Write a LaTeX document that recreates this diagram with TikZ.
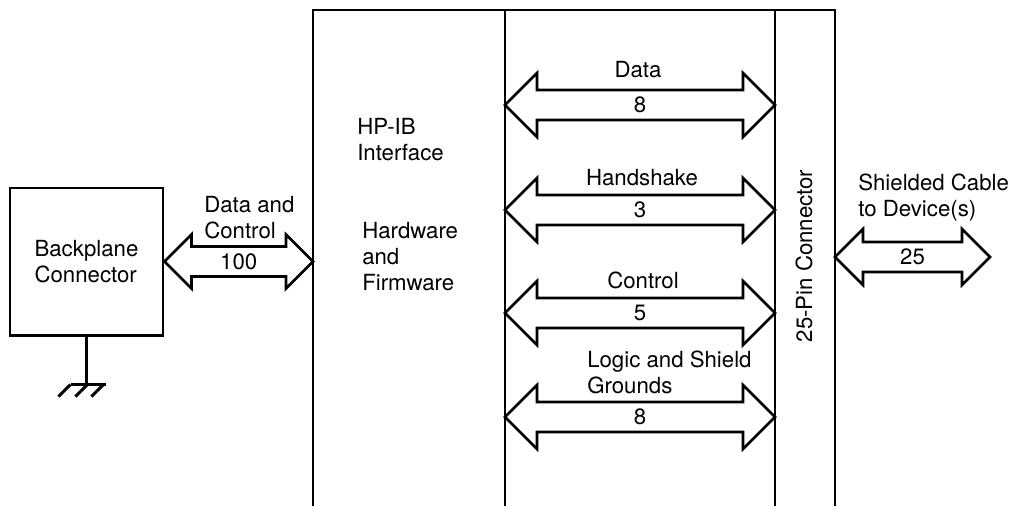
\documentclass[tikz,border=0pt]{standalone}
\usepackage{fontspec}
\setmainfont{TeX Gyre Heros}
\usetikzlibrary{calc}

\newcommand{\busarrow}[3][32]{%
\draw[bus] (#2) -- ++(#1,-#1) -- ++(0,#1-15) -- ($(#3)+(-#1,-15)$) -- ++(0,15-#1) -- (#3)
  -- ++(-#1,#1) -- ++(0,15-#1) -- ($(#2)+(#1,15)$) -- ++(0,#1-15) -- cycle;}

\begin{document}
\begin{tikzpicture}[x=0.025cm,y=-0.025cm,
  every node/.style={font=\fontsize{15.8}{18.5}\selectfont,inner sep=0pt},
  frame/.style={line width=2.1pt},
  lane/.style={line width=1.4pt},
  bus/.style={line width=1.9pt,line join=miter},
  lbl/.style={align=left,anchor=west}]
\useasboundingbox (0,0) rectangle (1011,506);
\draw[frame] (313,506) -- (313,10) -- (835,10) -- (835,506);
\draw[lane] (505,10) -- (505,506);
\draw[frame] (775,10) -- (775,506);
\node[draw,frame,align=left,minimum width=3.825cm,minimum height=3.675cm] (bp) at (86.5,261.5) {Backplane\\Connector};
\draw[frame] (bp.south) -- ++(0,48) coordinate (gnd);
\draw[frame] ($(gnd)+(-16,0)$) -- ($(gnd)+(19,0)$);
\foreach \dx in {-16,1,17} \draw[frame] ($(gnd)+(\dx,0)$) -- ++(-12,12);
\coordinate (hwL) at (313,261.5);
\busarrow[27]{bp.east}{hwL}
\node[lbl] at (204,218) {Data and\\Control};
\node at ($(bp.east)!0.5!(hwL)$) {100};
\node[lbl] at (357,140) {HP-IB\\Interface};
\node[lbl] at (362,257) {Hardware\\and\\Firmware};
\foreach \n/\y in {d/105,h/210,c/313,g/417}{
  \coordinate (\n1) at (505,\y);
  \coordinate (\n2) at (775,\y);
  \busarrow{\n1}{\n2}
}
\node at ($(d1)!0.5!(d2)$) {8};
\node at ($(h1)!0.5!(h2)$) {3};
\node at ($(c1)!0.5!(c2)$) {5};
\node at ($(g1)!0.5!(g2)$) {8};
\node at (638,70) {Data};
\node at (642,178) {Handshake};
\node at (643,280) {Control};
\node[lbl] at (587,372) {Logic and Shield\\Grounds};
\node[rotate=90] at (804,256) {25-Pin Connector};
\coordinate (pinR) at (835,257);
\coordinate (cable) at (990,257);
\busarrow[28]{pinR}{cable}
\node at ($(pinR)!0.5!(cable)$) {25};
\node[lbl] at (858,198) {Shielded Cable\\to Device(s)};
\end{tikzpicture}
\end{document}
